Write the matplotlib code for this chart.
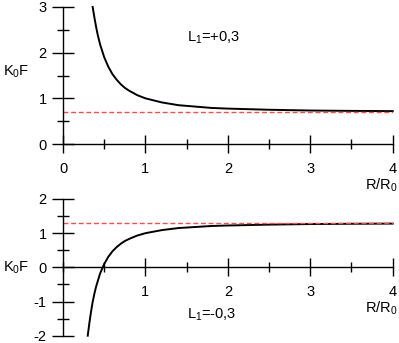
import matplotlib
matplotlib.use("Agg")
import matplotlib.pyplot as plt
from matplotlib.ticker import MultipleLocator

plt.rcParams['font.family'] = ['Liberation Sans', 'DejaVu Sans']
plt.rcParams['mathtext.fontset'] = 'custom'
plt.rcParams['mathtext.rm'] = 'Liberation Sans'
plt.rcParams['axes.unicode_minus'] = False

# Top panel: L1 = +0,3
r_top = [0.36, 0.38, 0.40, 0.42, 0.45, 0.50, 0.55, 0.60, 0.65, 0.70, 0.75, 0.80,
         0.90, 1.00, 1.20, 1.40, 1.60, 1.80, 2.00, 2.50, 3.00, 3.50, 4.00]
f_top = [3.00, 2.78, 2.58, 2.40, 2.18, 1.90, 1.69, 1.53, 1.41, 1.31, 1.23, 1.17,
         1.07, 1.00, 0.91, 0.85, 0.82, 0.79, 0.775, 0.75, 0.733, 0.725, 0.72]
asym_top = 0.7

# Bottom panel: L1 = -0,3
r_bot = [0.30, 0.32, 0.34, 0.36, 0.38, 0.40, 0.45, 0.50, 0.55, 0.60, 0.65, 0.70,
         0.75, 0.80, 0.90, 1.00, 1.20, 1.40, 1.60, 1.80, 2.00, 2.50, 3.00, 3.50, 4.00]
f_bot = [-2.00, -1.63, -1.30, -1.01, -0.78, -0.575, -0.18, 0.10, 0.31, 0.47, 0.59, 0.69,
         0.77, 0.83, 0.93, 1.00, 1.09, 1.15, 1.18, 1.21, 1.225, 1.25, 1.267, 1.275, 1.28]
asym_bot = 1.3

top_yticks = [0, 1, 2, 3]
bot_yticks = [-2, -1, 0, 1, 2]
top_xticks = [0, 1, 2, 3, 4]
bot_xticks = [1, 2, 3, 4]

W, H = 399, 343
fig = plt.figure(figsize=(W / 100, H / 100), dpi=100)

ax1 = fig.add_axes([63 / W, (H - 144) / H, 329.7 / W, 137 / H])
ax2 = fig.add_axes([63 / W, (H - 335.7) / H, 329.7 / W, 136.7 / H])


def style(ax, ylim, yticks, xticks, label_y):
    ax.set_xlim(0, 4)
    ax.set_ylim(*ylim)
    for s in ['top', 'right']:
        ax.spines[s].set_visible(False)
    ax.spines['left'].set_position(('data', 0))
    ax.spines['bottom'].set_position(('data', 0))
    for s in ['left', 'bottom']:
        ax.spines[s].set_linewidth(1.0)
    ax.set_xticks(xticks)
    ax.set_yticks(yticks)
    ax.xaxis.set_minor_locator(MultipleLocator(0.5))
    ax.yaxis.set_minor_locator(MultipleLocator(0.5))
    ax.tick_params(axis='y', which='major', direction='inout', length=15.5, width=1.0,
                   pad=4, labelsize=10.5)
    ax.tick_params(axis='y', which='minor', direction='inout', length=8, width=1.0)
    ax.tick_params(axis='x', which='major', direction='inout', length=13.5, width=1.0,
                   pad=6, labelsize=10.5)
    ax.tick_params(axis='x', which='minor', direction='inout', length=6.5, width=1.0)
    ax.patch.set_alpha(0)
    for t in ax.get_xaxis().get_majorticklines() + ax.get_yaxis().get_majorticklines():
        t.set_clip_on(False)
    ax.set_ylabel('K$\\mathregular{_0}$F', rotation=0, fontsize=10.5, labelpad=0,
                  va='center', ha='center')
    ax.yaxis.set_label_coords(-47 / 329.7, label_y)


style(ax1, (0, 3), top_yticks, top_xticks, 0.525)
style(ax2, (-2, 2), bot_yticks, bot_xticks, 0.5)

ax1.plot(r_top, f_top, color='black', lw=1.4, clip_on=False)
ax1.plot([0, 4], [asym_top, asym_top], color='#ff4848', lw=1.0, ls=(0, (3.5, 2)))
ax2.plot(r_bot, f_bot, color='black', lw=1.4, clip_on=False)
ax2.plot([0, 4], [asym_bot, asym_bot], color='#ff4848', lw=1.0, ls=(0, (3.5, 2)))

ax1.text(1.50, 2.32, 'L$\\mathregular{_1}$=+0,3', fontsize=10.5, va='center', ha='left')
ax2.text(1.50, -1.39, 'L$\\mathregular{_1}$=-0,3', fontsize=10.5, va='center', ha='left')

ax1.text(3.67, -0.90, 'R/R$\\mathregular{_0}$', fontsize=10.5, va='center', ha='left', clip_on=False)
ax2.text(3.67, -1.19, 'R/R$\\mathregular{_0}$', fontsize=10.5, va='center', ha='left', clip_on=False)

fig.savefig('out.png', dpi=100)
